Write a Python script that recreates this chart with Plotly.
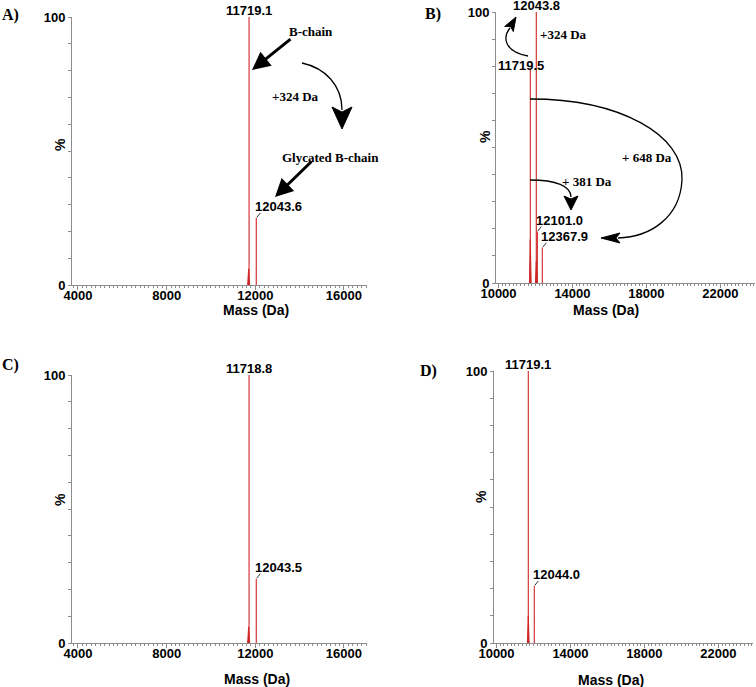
import plotly.graph_objects as go

W, H = 756, 687

# ---------------- data ----------------
a_peak_mass = [11719.1, 12043.6]
a_peak_int = [100, 25]
a_base_mass = [11700]
a_base_int = [6]

b_peak_mass = [11719.5, 12043.8, 12101.0, 12367.9]
b_peak_int = [79, 100, 19, 13]
b_base_mass = [11719.5, 12043.8]
b_base_int = [16, 8]

c_peak_mass = [11718.8, 12043.5]
c_peak_int = [100, 24]
c_base_mass = [11700]
c_base_int = [6]

d_peak_mass = [11719.1, 12044.0]
d_peak_int = [100, 21]
d_base_mass = [11719.1]
d_base_int = [10]

ac_xticks = [4000, 8000, 12000, 16000]
bd_xticks = [10000, 14000, 18000, 22000]
y_ticks = [0, 100]

# ---------------- helpers ----------------
def px(x):
    return x / W


def py(y):
    return 1 - y / H


RED = "rgb(208,38,38)"
AX = "#8c8c8c"
SANS = "Liberation Sans, Arial, sans-serif"
SERIF = "Liberation Serif, Times New Roman, serif"

fig = go.Figure()

panels = [
    ("A", a_peak_mass, a_peak_int, a_base_mass, a_base_int, ac_xticks, (72, 367), (17, 285), (3730, 17040),
     ["top", "side"]),
    ("B", b_peak_mass, b_peak_int, b_base_mass, b_base_int, bd_xticks, (496, 755), (12, 283), (9865, 23870),
     ["mid", "top", "side", "side"]),
    ("C", c_peak_mass, c_peak_int, c_base_mass, c_base_int, ac_xticks, (72, 367), (375, 643), (3730, 17040),
     ["top", "side"]),
    ("D", d_peak_mass, d_peak_int, d_base_mass, d_base_int, bd_xticks, (494, 753), (371, 643), (9865, 23870),
     ["top", "side"]),
]

annotations = []
shapes = []

for i, (name, pm, pi, bm, bi, xt, xd, yd, rng, styles) in enumerate(panels):
    n = "" if i == 0 else str(i + 1)
    xa, ya = "x" + n, "y" + n
    hx, hy = [], []
    for m, h in zip(bm, bi):
        hx += [m - 45, m, m + 45, None]
        hy += [0, h, 0, None]
    fig.add_trace(go.Scatter(x=hx, y=hy, mode="lines", fill="toself", fillcolor=RED,
                             line=dict(color=RED, width=1), xaxis=xa, yaxis=ya,
                             showlegend=False, hoverinfo="skip"))
    sx, sy = [], []
    for m, h in zip(pm, pi):
        sx += [m, m, None]
        sy += [0, h, None]
    fig.add_trace(go.Scatter(x=sx, y=sy, mode="lines", line=dict(color=RED, width=1.1),
                             xaxis=xa, yaxis=ya, showlegend=False))

    axis_common = dict(showgrid=False, zeroline=False, showline=True, linecolor=AX, linewidth=1,
                       ticks="outside", tickcolor=AX, automargin=False,
                       tickfont=dict(family=SANS, size=13, color="black", weight="bold"))
    fig.update_layout(**{
        ("xaxis" + n): dict(domain=[px(xd[0]), px(xd[1])], range=list(rng), anchor=ya,
                            tickvals=xt, ticktext=[str(v) for v in xt], ticklen=4,
                            ticklabelstandoff=-6,
                            minor=dict(dtick=200, ticks="outside", ticklen=2, tickcolor=AX),
                            **axis_common),
        ("yaxis" + n): dict(domain=[py(yd[1]), py(yd[0])], range=[0, 100], anchor=xa,
                            tickvals=list(range(0, 101, 10)),
                            ticktext=["0"] + [""] * 9 + ["100"], ticklen=3,
                            **axis_common),
    })

    for m, h, st in zip(pm, pi, styles):
        txt = f"{m:.1f}"
        f = dict(family=SANS, size=13, color="black", weight="bold")
        if st == "top":
            annotations.append(dict(x=m, y=h, xref=xa, yref=ya, text=txt, showarrow=False,
                                    xanchor="center", yanchor="bottom", yshift=-3, font=f))
        elif st == "mid":
            annotations.append(dict(x=m, y=h, xref=xa, yref=ya, text=txt, showarrow=False,
                                    xanchor="center", yanchor="middle", xshift=-9, yshift=3, font=f))
        else:
            annotations.append(dict(x=m, y=h, xref=xa, yref=ya, text=txt, showarrow=False,
                                    xanchor="left", yanchor="bottom", xshift=-3, yshift=2, font=f))
            shapes.append(dict(type="line", xref=xa, yref=ya, xsizemode="pixel", xanchor=m,
                               x0=0.5, x1=4, ysizemode="pixel", yanchor=h, y0=0.5, y1=5,
                               line=dict(color="#333", width=1)))

titles = [
    ("Mass (Da)", 256, 310, 0), ("Mass (Da)", 606, 310, 0),
    ("Mass (Da)", 257, 679, 0), ("Mass (Da)", 611, 680, 0),
    ("%", 60, 145, -90), ("%", 485, 137, -90), ("%", 60, 500, -90), ("%", 481, 497, -90),
]
for t, x, y, rot in titles:
    annotations.append(dict(x=px(x), y=py(y), xref="paper", yref="paper", text=t, showarrow=False,
                            xanchor="center", yanchor="middle", textangle=rot,
                            font=dict(family=SANS, size=14, color="black", weight="bold")))

for t, x, y in [("A)", 0, 15), ("B)", 423, 14), ("C)", 0, 365), ("D)", 418, 371)]:
    annotations.append(dict(x=px(x), y=py(y), xref="paper", yref="paper", text=t, showarrow=False,
                            xanchor="left", yanchor="middle",
                            font=dict(family=SERIF, size=16, color="black", weight="bold")))

for t, x, y, anc in [("B-chain", 287, 31, "left"), ("+324 Da", 270, 96, "left"),
                     ("Glycated B-chain", 280, 157, "left"), ("+324 Da", 538, 34, "left"),
                     ("+ 648 Da", 620, 158, "left"), ("+ 381 Da", 560, 181, "left")]:
    annotations.append(dict(x=px(x), y=py(y), xref="paper", yref="paper", text=t, showarrow=False,
                            xanchor=anc, yanchor="middle",
                            font=dict(family=SERIF, size=13, color="black", weight="bold")))

for (tx, ty), (hx_, hy_) in [((292, 38), (252, 70)), ((313, 160), (275, 197))]:
    annotations.append(dict(x=px(hx_), y=py(hy_), xref="paper", yref="paper",
                            ax=tx - hx_, ay=ty - hy_, axref="pixel", ayref="pixel",
                            showarrow=True, arrowhead=2, arrowsize=1.2, arrowwidth=3,
                            arrowcolor="black", text=""))


def P(x, y):
    return f"{px(x):.5f},{py(y):.5f}"


def curve(d):
    shapes.append(dict(type="path", xref="paper", yref="paper", path=d,
                       line=dict(color="black", width=1.3)))


def head(tip, base, notch, half, fill="black"):
    (tx, ty), (bx, by) = tip, base
    dx, dy = tx - bx, ty - by
    L = (dx * dx + dy * dy) ** 0.5
    ux, uy = dx / L, dy / L
    qx, qy = -uy, ux
    p1 = (bx + qx * half, by + qy * half)
    p2 = (bx - qx * half, by - qy * half)
    nb = (bx + ux * notch, by + uy * notch)
    d = f"M {P(tx, ty)} L {P(*p1)} L {P(*nb)} L {P(*p2)} Z"
    shapes.append(dict(type="path", xref="paper", yref="paper", path=d,
                       fillcolor=fill, line=dict(color=fill, width=1)))


curve(f"M {P(302, 63)} C {P(325, 68)} {P(342, 85)} {P(342, 110)}")
head((342, 129), (342, 107), 5, 10)

curve(f"M {P(528, 56)} C {P(505, 52)} {P(502, 38)} {P(510, 28)}")
head((516, 17), (509, 29), 3, 5)

curve(f"M {P(530, 99)} C {P(620, 99)} {P(684, 135)} {P(682, 180)} "
      f"C {P(680, 218)} {P(650, 237)} {P(618, 238)}")
head((601, 238), (620, 238), 4, 5)

curve(f"M {P(530, 180)} C {P(556, 180)} {P(571, 186)} {P(571, 197)}")
head((571, 210), (571, 196), 3, 7)

fig.update_layout(width=W, height=H, margin=dict(l=0, r=0, t=0, b=0, autoexpand=False),
                  plot_bgcolor="white", paper_bgcolor="white",
                  annotations=annotations, shapes=shapes, showlegend=False)

fig.write_html("out.html", config={"displayModeBar": False},
               post_script="document.body.style.margin='0';document.body.style.overflow='hidden';")
